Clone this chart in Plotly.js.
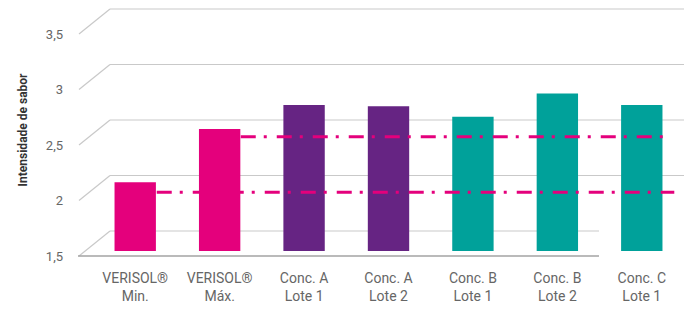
<!DOCTYPE html>
<html><head><meta charset="utf-8">
<script src="https://cdn.plot.ly/plotly-3.0.1.min.js"></script>
<style>html,body{margin:0;padding:0;background:#fff}</style>
</head><body><div id="chart" style="width:686px;height:309px"></div>
<script>
const categories = ["VERISOL®<br>Min.", "VERISOL®<br>Máx.", "Conc. A<br>Lote 1", "Conc. A<br>Lote 2", "Conc. B<br>Lote 1", "Conc. B<br>Lote 2", "Conc. C<br>Lote 1"];
const values = [2.12, 2.60, 2.815, 2.805, 2.71, 2.92, 2.815];
const barColors = ["#E4007C", "#E4007C", "#662483", "#662483", "#00A19A", "#00A19A", "#00A19A"];
const tickValues = [1.5, 2, 2.5, 3, 3.5];
const tickLabels = ["1,5", "2", "2,5", "3", "3,5"];
const refMin = 2.03;
const refMax = 2.53;

// oblique "3D" depth offsets (in axis units) for front plane and back wall
const pxPerUnit = 111;
const frontOff = -5 / pxPerUnit;
const backOff = 20 / pxPerUnit;
const L = 93, W = 591;
const px = p => (p - L) / W;

const shapes = [];
const grid = {color: "#C9C9C9", width: 1.2};
tickValues.forEach(v => {
  shapes.push({type: "line", xref: "paper", yref: "y", x0: px(79), x1: px(110), y0: v + frontOff, y1: v + backOff, line: grid, layer: "below"});
  const endX = v === tickValues[0] ? px(599) : 1;
  shapes.push({type: "line", xref: "paper", yref: "y", x0: px(110), x1: endX, y0: v + backOff, y1: v + backOff, line: grid, layer: "below"});
});
shapes.push({type: "line", xref: "paper", yref: "y", x0: px(78), x1: px(599), y0: tickValues[0] + frontOff, y1: tickValues[0] + frontOff, line: {color: "#A3A3A3", width: 1.5}, layer: "below"});
const dd = {color: "#E4007C", width: 3, dash: "15px,8px,3px,10px"};
shapes.push({type: "line", xref: "x", yref: "y", x0: 0.255, x1: 6.385, y0: refMin, y1: refMin, line: dd, layer: "above"});
shapes.push({type: "line", xref: "x", yref: "y", x0: 1.25, x1: 6.30, y0: refMax, y1: refMax, line: dd, layer: "above"});

const trace = {
  type: "bar", x: categories, y: values.map(v => v - tickValues[0]), base: tickValues[0],
  marker: {color: barColors, line: {width: 0}}, width: 0.49, hoverinfo: "none"
};

const yTop = 1.5 + 251 / pxPerUnit;
const yBot = 1.5 - 9 / pxPerUnit;

const layout = {
  width: 686, height: 309,
  margin: {l: L, r: 686 - L - W, t: 0, b: 49},
  paper_bgcolor: "#fff", plot_bgcolor: "rgba(0,0,0,0)",
  showlegend: false,
  font: {family: "Roboto, 'Open Sans', sans-serif", color: "#666"},
  xaxis: {
    type: "category", range: [-0.5, 6.5], showgrid: false, zeroline: false, showline: false,
    ticks: "", tickfont: {size: 14, color: "#666"}, ticklabelstandoff: 8
  },
  yaxis: {
    range: [yBot, yTop], showgrid: false, zeroline: false, showline: false, ticks: "",
    tickvals: tickValues.map(v => v + frontOff), ticktext: tickLabels,
    tickfont: {size: 13, color: "#666"}, ticklabelstandoff: 29,
    title: {text: "Intensidade de sabor", font: {size: 12, color: "#333", family: "Roboto, sans-serif", weight: "bold"}, standoff: 15}
  },
  shapes: shapes
};
Plotly.newPlot("chart", [trace], layout, {staticPlot: true, displayModeBar: false});
</script></body></html>
